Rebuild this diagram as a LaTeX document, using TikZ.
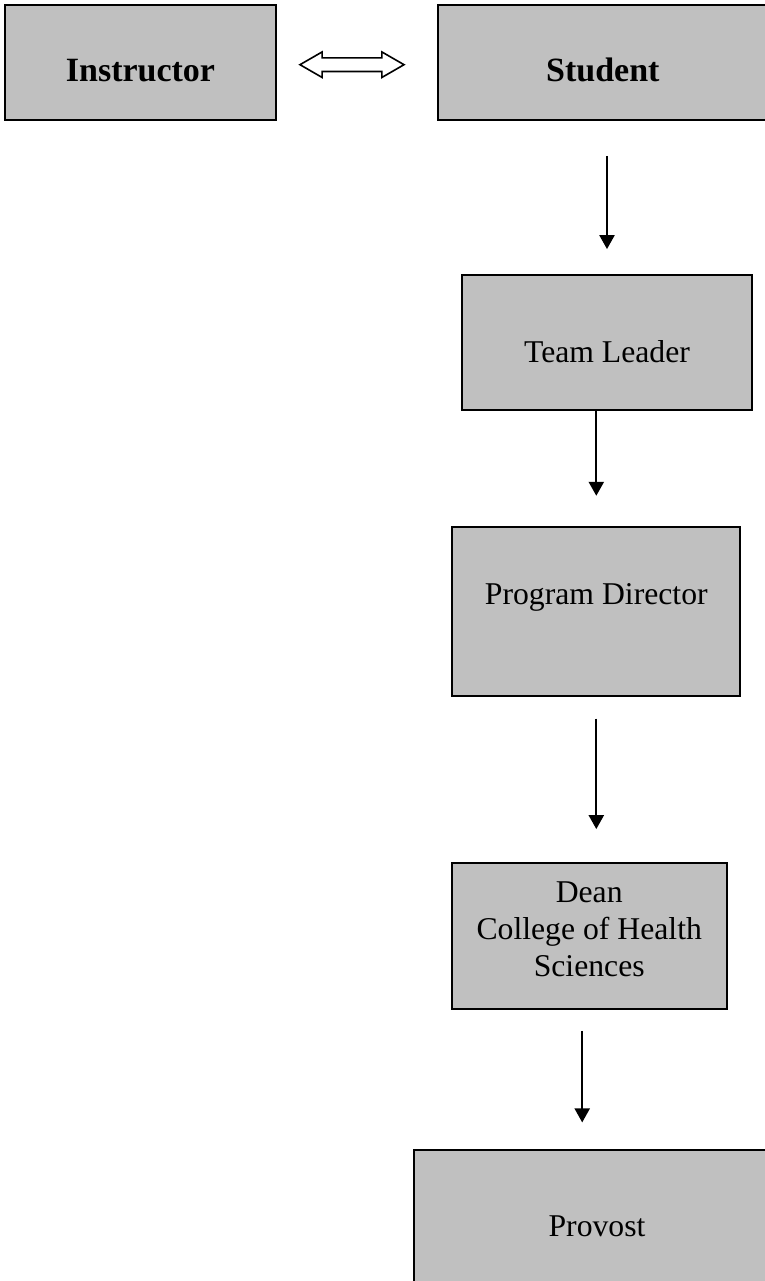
\documentclass[tikz,border=0pt]{standalone}
\usepackage{fontspec}
\setmainfont{Liberation Serif}
\usetikzlibrary{arrows.meta,shapes.arrows}
\definecolor{boxgray}{HTML}{C0C0C0}

\begin{document}
\begin{tikzpicture}[x=1pt,y=-1pt,
                    box/.style={draw,line width=1.8pt,fill=boxgray,inner sep=0pt,align=center,
                                font=\fontsize{31.7pt}{37pt}\selectfont},
                    boldbox/.style={box,font=\fontsize{34pt}{39pt}\selectfont\bfseries,
                                    minimum height=115pt,text height=38.4pt,text depth=0pt},
                    flow/.style={-{Triangle[width=15pt,length=14pt]},line width=2.3pt}]

  \useasboundingbox (0,0) rectangle (764,1281);

  \node[boldbox,minimum width=271pt] (instructor) at (140.5,62.5)  {Instructor};
  \node[boldbox,minimum width=329pt] (student)    at (602.8,62.5)  {Student};
  \node[box,minimum width=289.4pt,minimum height=135pt,
        text height=40.8pt,text depth=0pt] (team)      at (607,342.5)   {Team Leader};
  \node[box,minimum width=288pt,minimum height=169pt,
        text height=0pt,text depth=14pt]   (program)   at (596.3,611.2) {Program Director};
  \node[box,minimum width=275pt,minimum height=146.6pt,text depth=14pt] (dean) at (589.2,936)
        {Dean\\College of Health\\Sciences};
  \node[box,minimum width=366pt,minimum height=152pt] (provost) at (597,1226) {Provost};

  \node[double arrow,draw,line width=1.6pt,fill=white,inner xsep=0pt,inner ysep=6pt,
        minimum height=104pt,double arrow head extend=6pt,double arrow tip angle=60]
        (link) at (352,64.7) {};

  \draw[flow,shorten <=35pt,shorten >=25pt] (team.north |- student.south) -- (team.north);
  \draw[flow,shorten >=30pt] (program.north |- team.south) -- (program.north);
  \draw[flow,shorten <=22pt,shorten >=32.7pt] (program.south) -- (program.south |- dean.north);
  \draw[flow,shorten <=20.7pt,shorten >=26.7pt] ([xshift=-7pt]dean.south)
        -- ([xshift=-7pt]dean.south |- provost.north);
\end{tikzpicture}
\end{document}
